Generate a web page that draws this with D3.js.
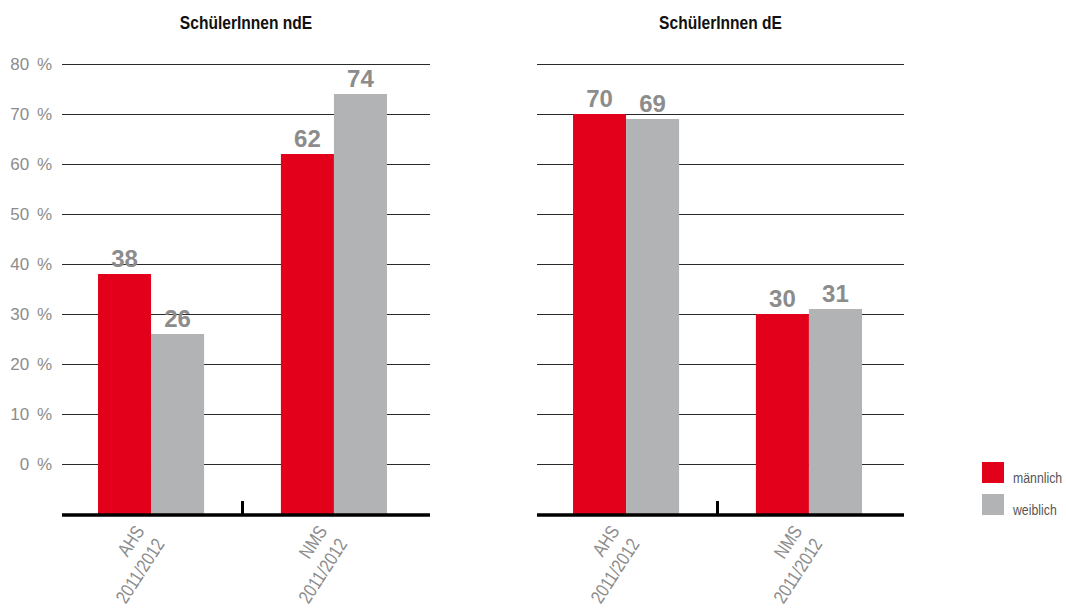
<!DOCTYPE html>
<html>
<head>
<meta charset="utf-8">
<script src="https://cdn.jsdelivr.net/npm/d3@7"></script>
<style>
  html, body { margin: 0; padding: 0; background: #fff; }
  svg { display: block; }
</style>
</head>
<body>
<svg id="chart" width="1066" height="613"></svg>
<script>
// Anteil der Schülerinnen und Schüler (in %), nach Schultyp und Geschlecht
const panelTitles = ["SchülerInnen ndE", "SchülerInnen dE"];
const schoolTypes = ["AHS", "NMS"];
const schoolYear = "2011/2012";
const genders = ["männlich", "weiblich"];
const ndeMale = [38, 62];
const ndeFemale = [26, 74];
const deMale = [70, 30];
const deFemale = [69, 31];
const yTickValues = [0, 10, 20, 30, 40, 50, 60, 70, 80];
const axisFloor = -10;   // bars rise from the heavy base line below 0 %

const colors = { "männlich": "#e2001a", "weiblich": "#b2b3b5" };

const svg = d3.select("#chart");
const sans = "'Liberation Sans', Arial, sans-serif";
const narrowScale = 0.82;   // horizontal squeeze for the condensed lettering

const y = d3.scaleLinear().domain([axisFloor, 80]).range([514, 64]);

const panelData = [
  { title: panelTitles[0], male: ndeMale, female: ndeFemale, x0: 62, x1: 430, yLabels: true },
  { title: panelTitles[1], male: deMale, female: deFemale, x0: 537, x1: 904, yLabels: false }
];

panelData.forEach(p => {
  const g = svg.append("g");

  const x = d3.scaleBand()
    .domain(schoolTypes)
    .range([p.x0, p.x0 + 361])
    .paddingInner(0.42)
    .paddingOuter(0.197);

  const xs = d3.scaleBand().domain(genders).range([0, x.bandwidth()]);

  // title
  g.append("text")
    .attr("transform", `translate(${(p.x0 + p.x1) / 2},29) scale(${narrowScale},1)`)
    .attr("text-anchor", "middle")
    .style("font-family", sans)
    .style("font-weight", "bold")
    .style("font-size", "19px")
    .attr("fill", "#111")
    .text(p.title);

  // horizontal grid lines
  g.selectAll("line.grid")
    .data(yTickValues)
    .join("line")
    .attr("class", "grid")
    .attr("x1", p.x0).attr("x2", p.x1)
    .attr("y1", d => y(d) + 0.5).attr("y2", d => y(d) + 0.5)
    .attr("stroke", "#2a2a2a")
    .attr("stroke-width", 1);

  if (p.yLabels) {
    g.selectAll("text.ylab")
      .data(yTickValues)
      .join("text")
      .attr("class", "ylab")
      .attr("x", 52)
      .attr("y", d => y(d))
      .attr("dy", "0.36em")
      .attr("text-anchor", "end")
      .style("font-family", sans)
      .style("font-size", "17px")
      .style("word-spacing", "3px")
      .attr("fill", "#8c8c8c")
      .text(d => d + " %");
  }

  const rows = schoolTypes.map((t, i) => ({
    type: t,
    values: [
      { gender: genders[0], value: p.male[i] },
      { gender: genders[1], value: p.female[i] }
    ]
  }));

  const groups = g.selectAll("g.group")
    .data(rows)
    .join("g")
    .attr("class", "group")
    .attr("transform", d => `translate(${x(d.type)},0)`);

  groups.selectAll("rect")
    .data(d => d.values)
    .join("rect")
    .attr("x", d => xs(d.gender))
    .attr("width", xs.bandwidth())
    .attr("y", d => y(d.value))
    .attr("height", d => y(axisFloor) - y(d.value))
    .attr("fill", d => colors[d.gender]);

  groups.selectAll("text.val")
    .data(d => d.values)
    .join("text")
    .attr("class", "val")
    .attr("x", d => xs(d.gender) + xs.bandwidth() / 2)
    .attr("y", d => y(d.value) - 7)
    .attr("text-anchor", "middle")
    .style("font-family", sans)
    .style("font-weight", "bold")
    .style("font-size", "24px")
    .attr("fill", "#8c8c8c")
    .text(d => d.value);

  // heavy base line
  g.append("line")
    .attr("x1", p.x0).attr("x2", p.x1)
    .attr("y1", 515).attr("y2", 515)
    .attr("stroke", "#000")
    .attr("stroke-width", 3.5);

  // separator tick between the two school types
  const mid = (x(schoolTypes[0]) + x.bandwidth() + x(schoolTypes[1])) / 2;
  g.append("line")
    .attr("x1", mid).attr("x2", mid)
    .attr("y1", 501).attr("y2", 515)
    .attr("stroke", "#000")
    .attr("stroke-width", 3);

  // rotated category labels
  const lab = g.selectAll("text.xlab")
    .data(schoolTypes)
    .join("text")
    .attr("class", "xlab")
    .attr("transform", d => `translate(${x(d) + x.bandwidth() / 2 - 6},531) rotate(-57) scale(${narrowScale},1)`)
    .attr("text-anchor", "end")
    .style("font-family", sans)
    .style("font-size", "19px")
    .attr("fill", "#8c8c8c");
  lab.append("tspan").attr("x", 0).attr("dy", 0).text(d => d);
  lab.append("tspan").attr("x", 0).attr("dy", 24).text(schoolYear);
});

// legend
const legend = svg.append("g").attr("transform", "translate(982,462)");
const li = legend.selectAll("g")
  .data(genders)
  .join("g")
  .attr("transform", (d, i) => `translate(0,${i * 32})`);
li.append("rect")
  .attr("width", 22).attr("height", 21)
  .attr("fill", d => colors[d]);
li.append("text")
  .attr("transform", `translate(31,21) scale(${narrowScale},1)`)
  .style("font-family", sans)
  .style("font-size", "15px")
  .attr("fill", "#555")
  .text(d => d);
</script>
</body>
</html>
